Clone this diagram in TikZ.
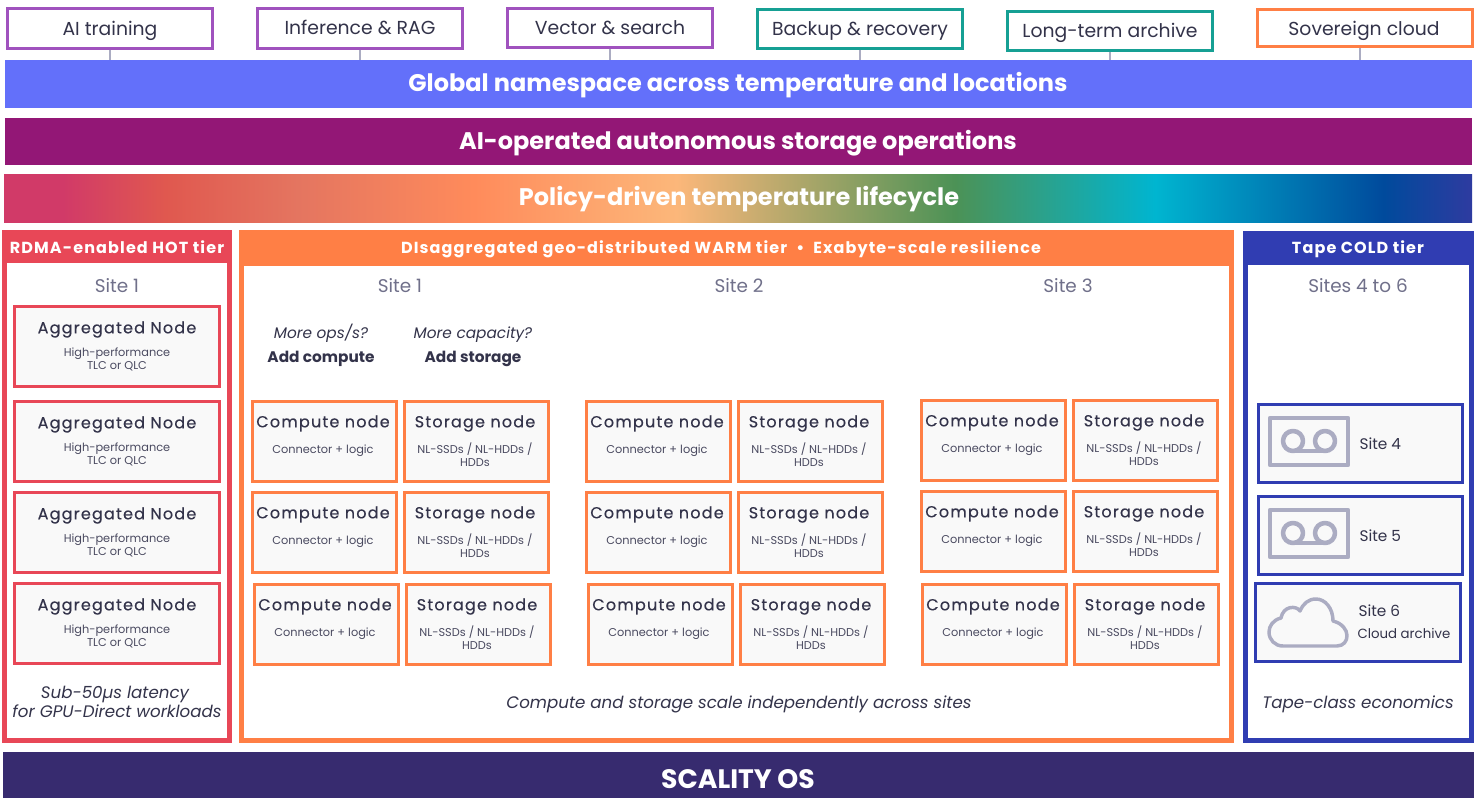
\documentclass[tikz,border=0pt]{standalone}
\usepackage{fontspec}
\setmainfont{Poppins}
\definecolor{inkdark}{HTML}{33334A}
\definecolor{inkmid}{HTML}{4A4A60}
\definecolor{inksite}{HTML}{70708A}
\definecolor{stemgrey}{HTML}{ABACC2}
\definecolor{aipurple}{HTML}{A052BE}
\definecolor{backupteal}{HTML}{16A094}
\definecolor{sovorange}{HTML}{FF7F45}
\definecolor{globalblue}{HTML}{6370FA}
\definecolor{opspurple}{HTML}{931776}
\definecolor{hotred}{HTML}{E84757}
\definecolor{warmorange}{HTML}{FF7F45}
\definecolor{coldblue}{HTML}{303DB2}
\definecolor{scalityblue}{HTML}{372B6F}
\definecolor{cellgrey}{HTML}{F9F9F9}
\definecolor{tempa}{HTML}{D13A68}
\definecolor{tempb}{HTML}{E0584F}
\definecolor{tempc}{HTML}{E47560}
\definecolor{tempd}{HTML}{FF8B5B}
\definecolor{tempe}{HTML}{FCB77A}
\definecolor{tempf}{HTML}{4C9256}
\definecolor{tempg}{HTML}{00B5D0}
\definecolor{temph}{HTML}{004A9C}
\definecolor{tempi}{HTML}{2E3BA0}
\pgfdeclarehorizontalshading{tempshade}{100bp}{
  color(0bp)=(tempa);
  color(25bp)=(tempa);
  color(27bp)=(tempa);
  color(30.5bp)=(tempb);
  color(35bp)=(tempc);
  color(41bp)=(tempd);
  color(47.9bp)=(tempe);
  color(57.4bp)=(tempf);
  color(64.2bp)=(tempg);
  color(72bp)=(temph);
  color(75bp)=(tempi);
  color(100bp)=(tempi)}
\tikzset{every picture/.style={line width=0.75pt},
  txt/.style={inner sep=0pt,text height=.75em,text depth=.25em,text=inkdark},
  usecase/.style={draw,fill=white,line width=2.25pt,inner sep=0pt,outer sep=auto},
  usetext/.style={txt,yshift=-3pt,font=\fontsize{14.1}{14.1}\selectfont},
  stem/.style={draw=stemgrey,line width=1.5pt},
  bar/.style={line width=0pt,inner sep=0pt,outer sep=0pt},
  bartext/.style={txt,yshift=-4.5pt,text=white,font=\fontsize{18}{18}\selectfont\bfseries},
  tierframe/.style={draw,fill=white,line width=3.4pt,inner sep=0pt,outer sep=0pt},
  tierhead/.style={line width=0pt,inner sep=0pt,outer sep=0pt},
  headtext/.style={txt,yshift=-2.25pt,text=white,font=\fontsize{12}{12}\selectfont\bfseries\addfontfeature{LetterSpace=7}},
  sitetext/.style={txt,yshift=-2.25pt,text=inksite,font=\fontsize{13.8}{13.8}\selectfont},
  cell/.style={draw,fill=cellgrey,line width=2.25pt,inner sep=0pt,outer sep=0pt},
  celltitle/.style={txt,yshift=-2.25pt,font=\fontsize{12}{12}\selectfont\addfontfeature{LetterSpace=7.5,FakeBold=0.35}},
  cellsub/.style={txt,yshift=-0.75pt,text=inkmid,font=\fontsize{8.5}{8.5}\selectfont},
  hinttext/.style={txt,yshift=-1.5pt},
  captext/.style={txt,yshift=-2.25pt,font=\fontsize{12.5}{12.5}\selectfont\itshape},
  sidetext/.style={txt,yshift=-2.25pt,anchor=west,font=\fontsize{11.5}{11.5}\selectfont},
  icon/.style={draw=stemgrey,line width=3.4pt,line join=round}}
% box by outer corners, in pixels
\newcommand{\outerbox}[6]{\node[#2,minimum width={(#5-#3)*0.75pt-\pgflinewidth},minimum height={(#6-#4)*0.75pt-\pgflinewidth}] (#1) at ({(#3+#5)/2},{(#4+#6)/2}) {};}
\newcommand{\aggnode}[2]{%
  \node[cell,draw=hotred,minimum width=153.75pt,minimum height=60pt] (#1) at (117,{#2+41.5}) {};
  \node[celltitle] (#1title) at (117,{#2+22}) {Aggregated Node};
  \node[cellsub] (#1suba) at (117,{#2+47}) {High-performance};
  \node[cellsub] (#1subb) at (117,{#2+60}) {TLC or QLC};}
\newcommand{\computenode}[3]{%
  \node[cell,draw=warmorange,minimum width=108pt,minimum height=60pt] (#1) at ({#2+73.5},{#3+41.5}) {};
  \node[celltitle] (#1title) at ({#2+72},{#3+21}) {Compute node};
  \node[cellsub] (#1sub) at ({#2+72},{#3+49}) {Connector + logic};}
\newcommand{\storagenode}[3]{%
  \node[cell,draw=warmorange,minimum width=108pt,minimum height=60pt] (#1) at ({#2+73.5},{#3+41.5}) {};
  \node[celltitle] (#1title) at ({#2+72},{#3+21}) {Storage node};
  \node[cellsub] (#1suba) at ({#2+72},{#3+49}) {NL-SSDs / NL-HDDs /};
  \node[cellsub] (#1subb) at ({#2+72},{#3+62}) {HDDs};}
\begin{document}
\begin{tikzpicture}[x=0.75pt,y=0.75pt,yscale=-1,xscale=1]
\useasboundingbox (0,0) rectangle (1477,798);

% Bars
\outerbox{globalbar}{bar,fill=globalblue}{5}{60}{1472}{108}
\outerbox{opsbar}{bar,fill=opspurple}{5}{118}{1472}{165}
\outerbox{policybar}{bar,shading=tempshade}{4}{175}{1472}{223}
\outerbox{scalitybar}{bar,fill=scalityblue}{3}{752}{1474}{798}
\node[bartext] (globaltext) at (738,82) {Global namespace across temperature and locations};
\node[bartext] (opstext) at (738,140) {AI-operated autonomous storage operations};
\node[bartext] (policytext) at (739,196) {Policy-driven temperature lifecycle};
\node[bartext,font=\fontsize{20}{20}\selectfont\bfseries] (scalitytext) at (738,779) {SCALITY OS};

% Use cases
\outerbox{training}{usecase,draw=aipurple}{6}{7}{214}{50}
\outerbox{inference}{usecase,draw=aipurple}{256}{7}{464}{50}
\outerbox{vector}{usecase,draw=aipurple}{506}{7}{714}{49}
\outerbox{backup}{usecase,draw=backupteal}{756}{8}{964}{50}
\outerbox{archive}{usecase,draw=backupteal}{1006}{10}{1214}{52}
\outerbox{sovereign}{usecase,draw=sovorange}{1256}{8}{1474}{48}
\node[usetext] (trainingtext) at (110,28) {AI training};
\node[usetext] (inferencetext) at (360,27) {Inference \& RAG};
\node[usetext] (vectortext) at (610,27) {Vector \& search};
\node[usetext] (backuptext) at (860,28) {Backup \& recovery};
\node[usetext] (archivetext) at (1110,30) {Long-term archive};
\node[usetext] (sovereigntext) at (1364,28) {Sovereign cloud};
\draw[stem] (training.south) -- (training.south |- globalbar.north);
\draw[stem] (inference.south) -- (inference.south |- globalbar.north);
\draw[stem] (vector.south) -- (vector.south |- globalbar.north);
\draw[stem] (backup.south) -- (backup.south |- globalbar.north);
\draw[stem] (archive.south) -- (archive.south |- globalbar.north);
\draw[stem] ([xshift=-3.75pt]sovereign.south) -- ([xshift=-3.75pt]sovereign.south |- globalbar.north);

% Hot tier
\outerbox{hotframe}{tierframe,draw=hotred}{2}{230}{232}{743}
\outerbox{hothead}{tierhead,fill=hotred}{2}{230}{232}{263}
\node[headtext] (hottitle) at (117,247) {RDMA-enabled HOT tier};
\node[sitetext] (hotsite) at (117,286) {Site 1};
\aggnode{agga}{305}
\aggnode{aggb}{400}
\aggnode{aggc}{491}
\aggnode{aggd}{582}
\node[captext] (hotcapa) at (115,692) {Sub-50µs latency};
\node[captext] (hotcapb) at (117,711) {for GPU-Direct workloads};

% Warm tier
\outerbox{warmframe}{tierframe,draw=warmorange}{239}{230}{1234}{743}
\outerbox{warmhead}{tierhead,fill=warmorange}{239}{230}{1234}{266}
\node[headtext] (warmtitle) at (721,247) {DIsaggregated geo-distributed WARM tier\ \ •\ \ Exabyte-scale resilience};
\node[sitetext] (warmsitea) at (400,286) {Site 1};
\node[sitetext] (warmsiteb) at (739,286) {Site 2};
\node[sitetext] (warmsitec) at (1068,286) {Site 3};
\node[hinttext,font=\fontsize{11.5}{11.5}\selectfont\itshape] (hintopsa) at (321,333) {More ops/s?};
\node[hinttext,font=\fontsize{11.5}{11.5}\selectfont\bfseries] (hintopsb) at (321,357) {Add compute};
\node[hinttext,font=\fontsize{11.5}{11.5}\selectfont\itshape] (hintcapa) at (473,333) {More capacity?};
\node[hinttext,font=\fontsize{11.5}{11.5}\selectfont\bfseries] (hintcapb) at (473,357) {Add storage};
\computenode{cpaa}{251}{400}
\storagenode{stnaa}{403}{400}
\computenode{cpab}{251}{491}
\storagenode{stnab}{403}{491}
\computenode{cpac}{253}{583}
\storagenode{stnac}{405}{583}
\computenode{cpba}{585}{400}
\storagenode{stnba}{737}{400}
\computenode{cpbb}{585}{491}
\storagenode{stnbb}{737}{491}
\computenode{cpbc}{587}{583}
\storagenode{stnbc}{739}{583}
\computenode{cpca}{920}{399}
\storagenode{stnca}{1072}{399}
\computenode{cpcb}{920}{490}
\storagenode{stncb}{1072}{490}
\computenode{cpcc}{921}{583}
\storagenode{stncc}{1073}{583}
\node[captext] (warmcap) at (739,702) {Compute and storage scale independently across sites};

% Cold tier
\outerbox{coldframe}{tierframe,draw=coldblue}{1243}{231}{1474}{743}
\outerbox{coldhead}{tierhead,fill=coldblue}{1243}{231}{1474}{265}
\node[headtext] (coldtitle) at (1358,247) {Tape COLD tier};
\node[sitetext] (coldsite) at (1358,286) {Sites 4 to 6};
\outerbox{tapea}{cell,draw=coldblue}{1257}{403}{1464}{484}
\outerbox{tapeb}{cell,draw=coldblue}{1257}{495}{1464}{576}
\outerbox{cloudbox}{cell,draw=coldblue}{1254}{582}{1462}{663}
% Tape icons
\draw[icon] (1270,418) rectangle (1348,465);
\draw[icon] (1293,451) -- (1325,451);
\draw[icon] (1293,441) circle (10);
\draw[icon] (1325,441) circle (10);
\draw[icon] (1270,510) rectangle (1348,557);
\draw[icon] (1293,543) -- (1325,543);
\draw[icon] (1293,533) circle (10);
\draw[icon] (1325,533) circle (10);
% Cloud
\draw[icon,line width=2.6pt] (1283,646) -- (1337,646) .. controls (1350,646) and (1352,626) .. (1333,621) .. controls (1333,608) and (1325,599) .. (1316,599) .. controls (1308,599) and (1303,604) .. (1300,611) .. controls (1296,605) and (1283,606) .. (1281,618) .. controls (1273,620) and (1269,626) .. (1269,632) .. controls (1269,640) and (1275,646) .. (1283,646) -- cycle;
\node[sidetext] (tapeatext) at (1359,443) {Site 4};
\node[sidetext] (tapebtext) at (1359,535) {Site 5};
\node[sidetext] (cloudtext) at (1358,610) {Site 6};
\node[sidetext,yshift=0.75pt,font=\fontsize{10}{10}\selectfont] (cloudsub) at (1357,633) {Cloud archive};
\node[captext] (coldcap) at (1358,702) {Tape-class economics};

\end{tikzpicture}
\end{document}
